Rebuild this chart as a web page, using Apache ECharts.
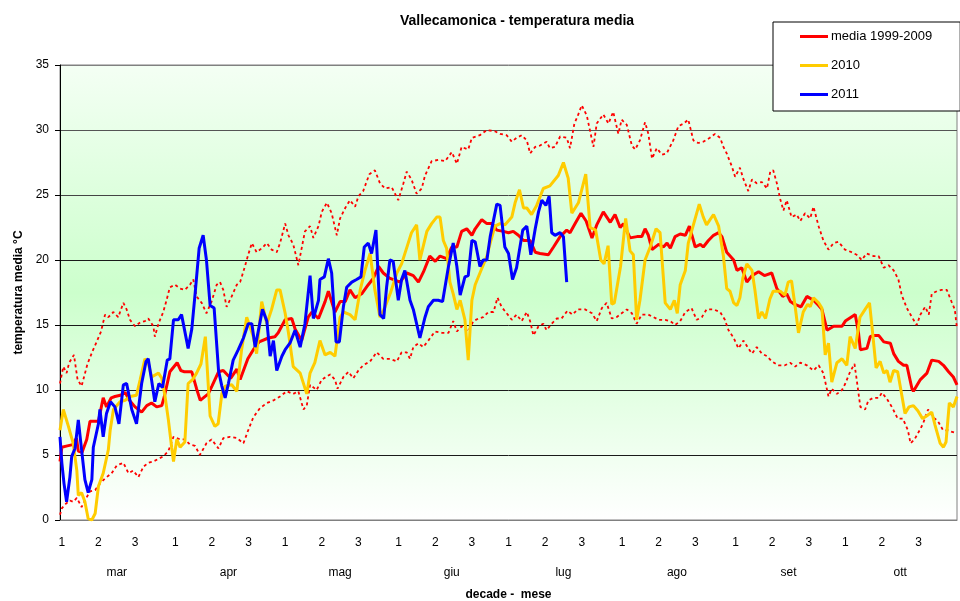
<!DOCTYPE html>
<html>
<head>
<meta charset="utf-8">
<title>Vallecamonica - temperatura media</title>
<script src="https://cdn.jsdelivr.net/npm/echarts@6/dist/echarts.min.js"></script>
<style>
  html, body { margin: 0; padding: 0; background: #fff; }
  #chart { width: 960px; height: 601px; }
</style>
</head>
<body>
<div id="chart"></div>
<script>
// x = giorno della stagione (0 = 1 marzo, 245 = 1 novembre), y = temperatura media
var mediaPts = [[0,4.5],[0.5,5.6],[2,5.7],[3.5,5.8],[4.5,6.3],[5,5.3],[6,5.2],[7.3,6.2],[8.2,7.6],[10.5,7.6],[11.8,9.4],[12.7,8.7],[14,9.4],[15,9.5],[16.5,9.6],[17.8,9.8],[19,9.2],[20.5,8.7],[22.3,8.3],[23.7,8.8],[25,9.0],[26.4,8.7],[27.8,8.8],[28.5,9.5],[30,11.4],[32,12.1],[33,11.5],[34,11.4],[36,11.4],[37.3,10.1],[38.3,9.2],[40.5,9.7],[41.5,10.3],[43.3,11.4],[44.6,11.5],[46.6,10.9],[48.3,11.6],[49.2,10.8],[51.3,12.4],[52.8,13.1],[54.4,13.7],[56.9,14.0],[58.7,14.1],[59.6,14.4],[61.5,15.4],[63.3,15.5],[64.2,14.7],[66,13.8],[67.8,15.6],[68.8,16.0],[70.6,15.5],[72.4,16.8],[73.3,17.6],[75.1,16.0],[76.5,16.8],[77.9,16.8],[79.2,17.7],[80.6,17.1],[82.4,17.4],[84.2,18.1],[85.6,18.6],[87,19.5],[88.3,19.0],[90,18.6],[92.9,18.3],[94.7,19.0],[96.5,18.8],[97.9,18.3],[99.3,19.1],[101,20.3],[102.5,19.9],[103.8,20.3],[105.6,20.1],[107,21.0],[108.4,21.0],[109.7,22.2],[111.1,22.4],[112.5,21.9],[113.4,22.4],[115.2,23.1],[116.6,22.8],[118,22.8],[119.3,22.3],[121.1,22.2],[122.5,22.1],[123.8,22.2],[125.2,21.9],[126.6,21.5],[128.4,21.5],[129.8,20.6],[131.1,20.5],[133.4,20.4],[134.8,21.0],[136.6,21.8],[138.4,22.3],[139.3,22.1],[140.7,22.8],[142.3,23.6],[143.7,23.0],[145.3,21.7],[146.6,22.7],[148.4,23.7],[150.3,22.9],[151.6,23.5],[153,22.5],[153.9,22.8],[155.7,21.7],[157.6,21.8],[158.9,21.8],[159.8,22.4],[160.7,21.9],[161.7,20.8],[163.5,21.2],[164.8,21.0],[165.8,21.3],[166.7,20.9],[168,21.8],[169.4,22.0],[170.8,21.9],[171.9,22.6],[173.5,21.0],[174.9,21.2],[175.7,21.0],[177.1,21.5],[178.5,21.9],[179.9,22.1],[180.8,21.8],[182.1,20.6],[184,20.0],[184.9,19.2],[186.2,19.4],[187.6,18.3],[189,18.8],[190.8,19.1],[192.4,18.8],[194.4,19.0],[195.8,17.8],[197.4,17.2],[198.5,17.4],[199.5,16.8],[200.6,16.6],[202.4,16.4],[204,17.2],[205.8,16.9],[207.2,16.5],[208.1,16.2],[209.5,14.6],[211.3,14.9],[213.6,14.9],[214.5,15.3],[217.2,15.8],[218.1,14.4],[218.6,13.1],[220.4,13.2],[221.3,14.1],[222.2,14.2],[223.6,14.2],[225,13.7],[226.8,13.6],[227.7,12.8],[229,12.2],[230.4,11.9],[231.3,11.9],[232.7,10.1],[233.1,9.9],[235,10.8],[236.8,11.3],[238.1,12.3],[240,12.2],[241.3,11.9],[242.7,11.4],[244,11.0],[245,10.4]];

var y2010Pts = [[0,6.9],[0.9,8.5],[2.3,7.2],[3.6,5.9],[4.6,3.8],[5,1.9],[5.9,2.1],[6.8,1.4],[7.7,0.1],[8.7,0],[9.6,0.5],[10.5,2.6],[11.8,3.6],[13.2,5.4],[13.7,6.9],[14.6,8.5],[16.4,9.1],[17.8,9.2],[19.1,9.5],[20.9,9.6],[21.9,10.8],[23.2,12.4],[24.1,12.1],[25,11.0],[26.9,11.3],[27.8,10.9],[28.7,9.5],[29.6,7.7],[30.5,5.6],[31,4.5],[31.9,6.2],[32.8,5.6],[34.1,6.0],[35,10.5],[36.2,10.8],[37.3,11.3],[38.5,12.0],[39.7,14.1],[41,8.0],[42.3,7.2],[43.2,7.4],[44.2,9.7],[45.1,10.3],[46.9,10.4],[48.3,9.9],[49.6,13.1],[51,15.6],[52.8,14.1],[53.7,12.8],[55.1,16.8],[56.5,15.1],[57.8,16.2],[59.2,17.7],[60.1,17.7],[61.5,15.9],[62.4,14.4],[63.7,11.8],[65.6,11.3],[67.4,9.7],[68.3,11.3],[69.6,12.1],[71,13.8],[72.4,12.7],[73.8,12.9],[75.1,12.6],[76.5,15.6],[77.4,16.0],[79.2,15.8],[80.6,15.4],[82,17.7],[83.3,19.2],[84.7,20.5],[86,17.7],[87.4,15.6],[88.8,16.4],[90.3,17.5],[92,19.0],[93.3,19.7],[95.1,21.3],[96,22.1],[97.4,22.7],[98.3,20.0],[100.2,22.2],[101.5,22.8],[102.9,23.3],[103.8,23.3],[104.7,21.5],[105.6,20.9],[106.5,18.3],[107.4,17.4],[108.4,16.2],[109.3,16.9],[110.6,15.4],[111.5,12.3],[112.5,16.9],[113.4,18.1],[114.7,19.0],[116.6,20.3],[117.5,21.3],[118.8,22.6],[120.2,22.8],[121.5,22.7],[123.4,23.3],[124.3,24.4],[125.5,25.4],[126.6,24.0],[127.5,24.0],[128.8,23.5],[130.2,24.2],[132,25.5],[133.8,25.7],[136.1,26.5],[137.5,27.5],[138.8,26.3],[139.8,23.6],[141.6,24.4],[142.5,25.4],[143.6,26.6],[144.8,22.5],[146.3,22.3],[147.7,20.0],[148.6,19.7],[149.7,21.1],[150.7,16.6],[151.4,16.7],[153.1,19.5],[154.5,23.2],[155.7,20.7],[156.6,20.4],[157.5,15.4],[158.4,16.9],[159.8,20.0],[161.2,21.0],[162.8,22.4],[163.9,22.1],[165.3,16.7],[166.7,16.2],[167.8,16.9],[168.6,15.9],[169.4,18.1],[170.8,19.2],[171.6,21.3],[173.5,23.2],[174.6,24.3],[175.7,23.3],[176.6,22.7],[178.5,23.5],[179.9,22.6],[181.2,20.3],[182.1,17.8],[183,17.6],[184,16.7],[184.9,16.5],[185.7,17.1],[186.5,18.6],[187.6,19.7],[189,19.2],[189.8,17.7],[190.8,15.5],[191.7,16.0],[192.7,15.5],[193.9,17.0],[194.8,17.6],[196.7,17.6],[198,17.3],[198.9,18.3],[199.8,18.4],[200.8,16.4],[201.7,14.4],[203,16.0],[204.2,16.6],[204.9,16.4],[205.8,17.1],[207.2,16.7],[208.1,16.3],[209,12.7],[209.9,13.6],[210.8,10.6],[212.2,12.1],[213.6,12.4],[214.9,11.9],[215.8,14.1],[217.2,13.2],[218.5,15.6],[219.9,16.2],[221.1,16.7],[221.7,15.1],[222.9,11.7],[224,12.2],[225,11.3],[225.9,11.5],[226.7,10.6],[227.7,11.5],[228.8,11.4],[230.8,8.2],[231.9,8.7],[233.1,8.8],[234.3,8.4],[235.6,7.8],[236.7,8.0],[238.1,8.3],[239,7.3],[240.4,5.9],[241.3,5.6],[242,6.0],[242.9,9.0],[244,8.7],[245,9.5]];

var y2011Pts = [[0,6.4],[0.5,4.4],[1.1,2.8],[1.8,1.4],[2.7,3.3],[3.2,4.9],[4.1,5.5],[5,7.7],[5.9,5.4],[6.8,3.1],[7.7,2.1],[8.7,3.1],[9.1,5.6],[10.5,7.4],[10.9,8.5],[11.8,6.4],[12.7,8.2],[13.8,9.1],[15,8.7],[16.1,7.4],[17.3,10.4],[18.2,10.5],[19.6,8.5],[20.9,7.4],[22.3,10.5],[23.5,12.2],[24.1,12.4],[25,10.8],[25.9,9.1],[27,10.5],[28,10.2],[29.3,12.3],[30,12.4],[31,15.4],[32.3,15.4],[33.2,15.8],[35,13.2],[36,14.7],[36.9,17.4],[38,20.9],[39.1,21.9],[40,20.0],[41,16.5],[42.1,16.3],[43.3,11.5],[44.2,10.3],[45.1,9.4],[46,10.5],[47.3,12.3],[48.7,13.1],[50.1,14.0],[51.4,15.1],[52.4,15.1],[53.3,13.3],[54.2,14.6],[55.3,16.2],[56.5,15.3],[57.4,12.6],[58.3,13.8],[59.2,11.5],[60.6,12.6],[61.5,13.1],[62.8,13.6],[64.2,14.6],[65.6,13.3],[66.9,15.1],[68.3,18.8],[69.2,15.5],[70.6,16.9],[71,18.5],[72.2,18.7],[73.3,20.1],[74.2,19.0],[75.4,13.7],[76.3,13.7],[77.4,16.4],[78.3,17.9],[79.7,18.3],[81,18.5],[82.2,18.7],[83.1,21.0],[84.2,21.3],[85.1,20.5],[86.3,22.3],[87.4,15.8],[88.4,15.5],[89.2,17.9],[90.1,20.0],[91,19.9],[92.4,16.9],[93.3,18.5],[94.2,19.2],[95.6,16.9],[96.5,16.2],[98.3,14.0],[99.7,15.6],[100.6,16.4],[102,16.9],[103.3,16.9],[104.5,16.8],[106.1,19.5],[107.4,21.3],[108.4,19.5],[109.3,17.3],[110.6,18.7],[111.5,18.8],[112.5,21.5],[113.4,21.4],[114.7,19.5],[115.6,20.0],[116.6,20.0],[117.5,21.8],[119.3,24.3],[120.2,24.2],[121.5,21.0],[122.5,20.5],[123.6,18.5],[124.7,19.4],[126.4,22.3],[127.5,22.6],[128.6,20.4],[129.8,22.4],[130.7,23.7],[131.6,24.6],[132.7,24.2],[133.6,24.9],[134.3,22.1],[135.2,21.9],[136.6,22.1],[137.5,21.8],[138.4,18.3]];

var maxPts = [[0,10.5],[0.9,11.8],[1.8,11.3],[2.5,12.1],[3.8,12.7],[4.8,10.8],[5.9,10.3],[7.5,12.0],[8.9,13.0],[10,13.7],[11.2,14.5],[12.3,15.8],[13.2,15.6],[14.6,16.0],[15.9,15.6],[17.3,16.7],[18.2,16.2],[19.1,15.4],[20.5,14.9],[21.9,15.2],[23.2,15.3],[24.1,15.5],[25.5,14.9],[25.9,14.1],[26.9,15.1],[28.2,16.0],[29.1,16.9],[30,17.9],[31.4,18.1],[32.8,17.8],[34.1,17.7],[35.5,18.1],[36.4,18.5],[37.3,17.2],[38.7,16.7],[40,15.9],[41.4,16.8],[42.8,18.1],[43.7,18.3],[44.6,17.7],[45.5,16.4],[46.9,17.2],[48.3,18.1],[49.2,18.3],[50.5,19.5],[51.4,20.4],[52.4,21.3],[53.7,20.6],[55.1,20.9],[56.5,21.3],[57.8,20.8],[59.2,20.6],[60.1,21.3],[61.5,22.8],[62.4,21.9],[63.7,21.2],[65.1,19.6],[66,20.9],[66.9,22.2],[68.3,22.6],[69.2,21.7],[70.6,22.6],[71.5,23.7],[72.9,24.4],[74.2,23.6],[75.6,21.9],[76.5,23.2],[77.9,24.0],[79.2,24.6],[80.6,24.1],[81.5,24.9],[82.8,25.3],[84.5,26.6],[86,26.9],[87.4,25.9],[88.8,25.5],[90.6,25.6],[92.4,24.6],[93.8,25.9],[94.7,26.8],[96,26.2],[97.4,25.1],[98.8,25.5],[99.7,26.5],[101.5,27.6],[103.3,27.7],[105.2,27.6],[107,28.3],[108.4,27.4],[109.7,28.7],[111.5,28.5],[112.5,29.4],[114.7,29.6],[116.6,30.0],[118.8,29.9],[120.2,29.7],[122,29.6],[123.4,29.1],[124.7,29.4],[126.1,29.6],[127.5,29.2],[128.4,28.2],[129.8,28.7],[131.1,28.8],[132.9,29.1],[133.8,28.6],[135.2,28.7],[136.6,29.5],[138.4,29.4],[139.3,28.6],[140.5,30.5],[141.3,31.0],[142.5,31.9],[143.9,31.1],[144.8,29.9],[145.7,28.7],[146.6,30.5],[148.4,31.2],[149.8,30.5],[151.1,31.4],[152.5,29.7],[153.4,30.8],[154.8,30.4],[156.2,28.8],[157.1,28.5],[158.4,29.2],[159.8,30.6],[160.7,29.7],[161.7,27.8],[163,28.6],[164.4,28.1],[165.7,28.2],[167.5,29.2],[168.9,30.3],[170.4,30.5],[171.6,30.8],[173,29.2],[174.3,29.0],[175.7,29.1],[177.5,29.4],[178.9,29.7],[180.3,29.4],[181.2,28.7],[182.1,28.2],[183.5,27.2],[184.4,26.4],[185.7,27.1],[186.7,26.2],[188,25.3],[189,26.2],[190.3,25.9],[191.7,26.0],[193.1,25.5],[194,26.8],[194.8,26.9],[195.8,25.9],[196.7,24.7],[197.6,23.8],[198.5,24.6],[199.8,23.3],[201.2,23.5],[202.2,23.0],[203.5,23.6],[204.9,23.2],[205.8,24.1],[207.2,22.6],[208.5,21.5],[209.9,20.8],[211.3,21.3],[212.6,21.4],[214.4,20.8],[216.2,20.6],[217.6,20.4],[219,20.0],[220.3,20.5],[222.2,20.3],[223.6,20.3],[225,19.4],[226.3,19.6],[227.7,19.2],[229,18.5],[229.9,17.3],[231.3,16.3],[232.7,15.6],[234,15.0],[235,15.8],[236.3,16.4],[237.3,15.8],[238.1,17.4],[239.5,17.6],[240.8,17.7],[242.2,17.7],[243.5,16.8],[244.4,16.2],[245,14.7]];

var minPts = [[0,0.4],[0.5,0.9],[1.4,1.2],[2.7,1.5],[3.6,1.4],[4.6,1.7],[5.9,1.0],[6.8,1.5],[8.2,2.2],[9.6,2.3],[10.9,2.8],[12.3,3.2],[14.1,3.6],[15.5,4.2],[17.3,4.4],[18.7,3.6],[20,3.8],[21.4,3.3],[22.8,4.1],[24.1,4.4],[25.5,4.5],[26.9,4.7],[28.2,4.9],[29.6,5.3],[31,6.4],[32.8,6.2],[34.1,6.2],[35.5,5.8],[36.9,5.7],[38.2,5.0],[40,5.9],[41.4,6.2],[43.3,5.5],[44.6,6.3],[46.4,6.4],[48.3,6.3],[50.1,5.9],[51.4,6.9],[52.8,7.9],[54.6,8.6],[56.5,9.0],[58.3,9.2],[60.1,9.5],[61.9,9.9],[63.7,9.7],[65.1,9.9],[66.5,8.5],[67.4,8.8],[68.3,10.4],[70.1,10.0],[71.5,10.8],[73.8,11.2],[75.1,10.8],[75.8,10.1],[77.4,11.0],[78.8,11.4],[80.1,10.9],[81.5,11.5],[82.8,11.9],[84.7,12.2],[86.5,12.9],[88.3,12.4],[90.1,12.4],[92,12.2],[93.3,12.9],[94.7,12.9],[95.6,12.4],[96.5,13.3],[97.9,13.6],[99.2,13.3],[100.6,13.8],[102.4,14.5],[104.3,14.4],[106.1,14.4],[107.4,15.3],[108.4,14.5],[109.7,14.9],[111.5,14.5],[112.9,15.3],[114.3,15.5],[115.6,15.6],[117,16.0],[118.4,16.0],[119.5,17.1],[120.6,16.4],[122,15.9],[123.4,15.4],[124.7,15.8],[126.1,15.3],[127.5,16.0],[128.4,15.3],[129.3,14.2],[130.7,14.9],[132,15.1],[132.9,14.6],[134.3,15.1],[135.7,15.5],[137,15.5],[138.6,16.1],[140,15.8],[141.4,16.2],[143.4,16.2],[145.3,15.9],[146.6,15.3],[148,16.3],[149.3,16.7],[150.7,15.5],[152,15.6],[153.4,15.9],[154.8,16.2],[156.2,15.9],[157.5,15.1],[158.9,15.8],[160.7,15.8],[162.1,15.6],[163.5,15.4],[165.3,15.4],[166.7,15.3],[168,15.0],[169.4,15.3],[170.8,16.0],[172.5,16.3],[173.9,15.4],[175.3,15.6],[176.6,16.2],[178.5,16.2],[180.3,16.0],[181.6,15.4],[182.6,14.6],[184,14.0],[185.3,13.2],[186.7,13.8],[188,13.2],[189,12.8],[190.3,13.3],[191.7,12.8],[193.1,12.6],[194.4,12.2],[196.2,11.9],[198,11.9],[199.4,12.1],[200.8,11.8],[202.2,12.1],[204,11.9],[205.8,11.5],[207.2,11.9],[208.5,11.3],[209.9,9.5],[210.8,10.1],[212.2,9.7],[213.6,10.0],[214.5,10.5],[215.8,11.4],[217,12.0],[217.6,10.8],[218.6,8.7],[219.9,8.5],[220.8,9.2],[222.2,9.4],[223.6,9.4],[224.5,9.8],[225.9,9.3],[227.4,8.6],[228.8,7.8],[230.2,7.8],[231.6,6.9],[232.3,5.9],[233.4,6.2],[234.8,6.9],[235.7,7.4],[237.1,8.5],[238.5,7.9],[239.8,7.6],[241.2,6.9],[242.6,6.9],[243.4,6.8],[244.8,6.7]];

// decadi (1, 11, 21 di ogni mese) e mesi
var monthNames = ['mar', 'apr', 'mag', 'giu', 'lug', 'ago', 'set', 'ott'];
var monthStart = [0, 31, 61, 92, 122, 153, 184, 214, 245];

var decadeTicks = []
var decadeLabels = []
var monthMid = []
for (var m = 0; m < monthNames.length; m++) {
	for (var k = 0; k < 3; k++) {
		decadeTicks.push(monthStart[m] + k * 10 + 0.5)
		decadeLabels.push(String(k + 1))
	}
	monthMid.push((monthStart[m] + monthStart[m + 1]) / 2)
}

var font = '"Liberation Sans", Arial, sans-serif'

var myChart = echarts.init(document.getElementById('chart'), null, { renderer: 'canvas' })

var option = {
	animation: false,
	backgroundColor: '#ffffff',
	textStyle: { fontFamily: font },
	title: {
		text: 'Vallecamonica - temperatura media',
		left: 512,
		textAlign: 'center',
		top: 9,
		textStyle: { fontFamily: font, fontSize: 14, fontWeight: 'bold', color: '#000' }
	},
	legend: {
		data: ['media 1999-2009', '2010', '2011'],
		orient: 'vertical',
		left: 773,
		top: 22,
		padding: [8, 28, 10, 27],
		itemGap: 16,
		itemWidth: 28,
		itemHeight: 14,
		icon: 'path://M0,0 L28,0 L28,3 L0,3 Z',
		backgroundColor: '#ffffff',
		borderColor: '#000000',
		borderWidth: 1,
		textStyle: { fontFamily: font, fontSize: 13, color: '#000', padding: [0, 0, 0, -2] }
	},
	grid: {
		left: 60,
		right: 3,
		top: 65,
		bottom: 81,
		outerBoundsMode: 'none',
		show: true,
		borderColor: '#808080',
		borderWidth: 1,
		backgroundColor: new echarts.graphic.LinearGradient(0, 0, 0, 1, [
			{ offset: 0, color: '#f4fff4' },
			{ offset: 0.5, color: '#ccffcc' },
			{ offset: 1, color: '#ffffff' }
		])
	},
	xAxis: [{
		type: 'value',
		min: 0,
		max: 245,
		name: 'decade -  mese',
		nameLocation: 'middle',
		nameGap: 69,
		nameTextStyle: { fontFamily: font, fontSize: 12, fontWeight: 'bold', color: '#000' },
		axisLine: { show: true, onZero: false, lineStyle: { color: '#808080', width: 1 } },
		axisTick: { show: false },
		splitLine: { show: false },
		axisLabel: {
			customValues: decadeTicks,
			margin: 17,
			fontFamily: font,
			fontSize: 12,
			color: '#000',
			formatter: function (value) {
				for (var i = 0; i < decadeTicks.length; i++) {
					if (Math.abs(decadeTicks[i] - value) < 0.01) return decadeLabels[i]
				}
				return ''
			}
		}
	}, {
		type: 'value',
		min: 0,
		max: 245,
		position: 'bottom',
		offset: 30,
		axisLine: { show: false },
		axisTick: { show: false },
		splitLine: { show: false },
		axisLabel: {
			customValues: monthMid,
			margin: 17,
			fontFamily: font,
			fontSize: 12,
			color: '#000',
			formatter: function (value) {
				for (var i = 0; i < monthMid.length; i++) {
					if (Math.abs(monthMid[i] - value) < 0.01) return monthNames[i]
				}
				return ''
			}
		}
	}],
	yAxis: {
		type: 'value',
		min: 0,
		max: 35,
		interval: 5,
		name: 'temperatura media °C',
		nameLocation: 'middle',
		nameGap: 34,
		nameTextStyle: { fontFamily: font, fontSize: 12, fontWeight: 'bold', color: '#000' },
		axisLine: { show: true, lineStyle: { color: '#000', width: 1 } },
		axisTick: { show: true, length: 5, lineStyle: { color: '#000' } },
		axisLabel: { margin: 11, fontFamily: font, fontSize: 12, color: '#000' },
		splitLine: {
			show: true,
			lineStyle: { color: ['#808080', '#1a1a1a', '#1a1a1a', '#1a1a1a', '#1a1a1a', '#444', '#555', '#808080'], width: 1 }
		}
	},
	series: [{
		name: 'max',
		type: 'line',
		data: maxPts,
		symbol: 'none',
		silent: true,
		lineStyle: { color: '#ff0000', width: 1.8, type: [3, 3] }
	}, {
		name: 'min',
		type: 'line',
		data: minPts,
		symbol: 'none',
		silent: true,
		lineStyle: { color: '#ff0000', width: 1.8, type: [3, 3] }
	}, {
		name: 'media 1999-2009',
		type: 'line',
		data: mediaPts,
		symbol: 'none',
		itemStyle: { color: '#ff0000' },
		lineStyle: { color: '#ff0000', width: 3 }
	}, {
		name: '2010',
		type: 'line',
		data: y2010Pts,
		symbol: 'none',
		itemStyle: { color: '#ffcc00' },
		lineStyle: { color: '#ffcc00', width: 3 }
	}, {
		name: '2011',
		type: 'line',
		data: y2011Pts,
		symbol: 'none',
		itemStyle: { color: '#0000ff' },
		lineStyle: { color: '#0000ff', width: 3 }
	}]
}

myChart.setOption(option)
</script>
</body>
</html>
